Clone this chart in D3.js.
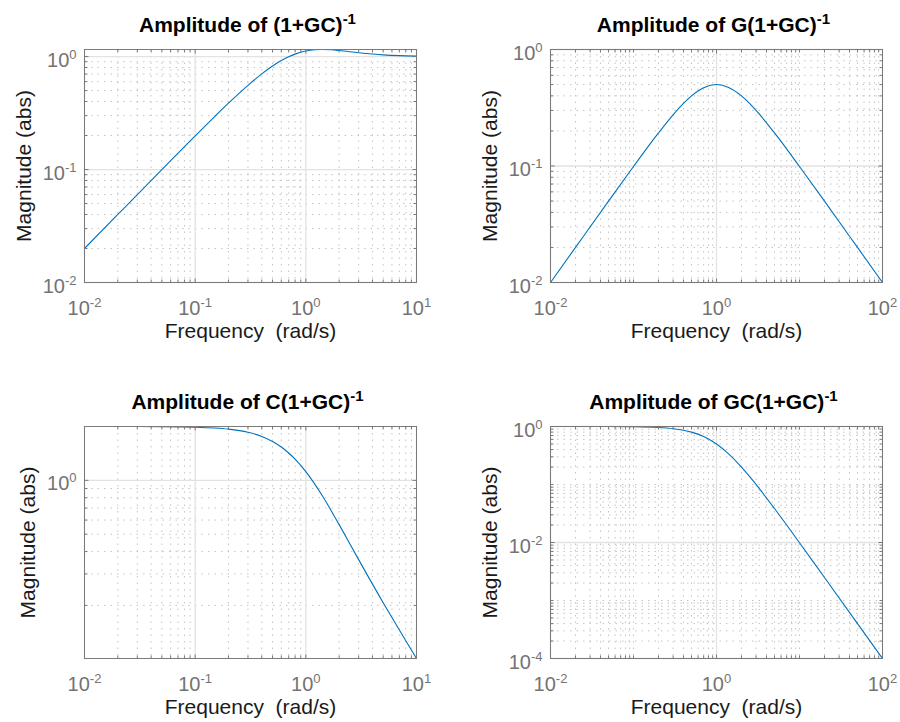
<!DOCTYPE html>
<html>
<head>
<meta charset="utf-8">
<script src="https://cdn.jsdelivr.net/npm/d3@7"></script>
<style>
  body { margin: 0; background: #fff; }
  svg { display: block; font-family: "Liberation Sans", Arial, Helvetica, sans-serif; }
</style>
</head>
<body>
<svg id="fig" width="900" height="722"></svg>
<script>
// frequencies (rad/s)
var freqA = [0.01, 0.02, 0.05, 0.1, 0.15, 0.2, 0.3, 0.4, 0.5, 0.6, 0.7, 0.8, 1, 1.2, 1.4, 1.7, 2, 3, 5, 7, 10];
// |(1+GC)^-1|
var magS = [0.0200, 0.0400, 0.0998, 0.1983, 0.2942, 0.3865, 0.5566, 0.7033, 0.8246, 0.9212, 0.9955, 1.0508,
            1.1180, 1.1471, 1.1547, 1.1471, 1.1314, 1.0817, 1.0356, 1.0192, 1.0097];
// |C(1+GC)^-1|
var magCS = [1.9998, 1.9993, 1.9956, 1.9827, 1.9615, 1.9327, 1.8554, 1.7583, 1.6492, 1.5353, 1.4221, 1.3135,
             1.1180, 0.9559, 0.8248, 0.6748, 0.5657, 0.3606, 0.2071, 0.1456, 0.1010];

// frequencies (rad/s)
var freqB = [0.01, 0.02, 0.05, 0.1, 0.2, 0.3, 0.4, 0.5, 0.7, 1, 1.4, 2, 2.5, 3.3, 5, 10, 20, 50, 100];
// |G(1+GC)^-1|
var magGS = [0.0100, 0.0200, 0.0499, 0.0990, 0.1923, 0.2752, 0.3448, 0.4000, 0.4698, 0.5000, 0.4730, 0.4000,
             0.3448, 0.2775, 0.1923, 0.0990, 0.0499, 0.0200, 0.0100];
// |GC(1+GC)^-1|
var magT = [0.9999, 0.9996, 0.9975, 0.9901, 0.9615, 0.9174, 0.8621, 0.8000, 0.6711, 0.5000, 0.3378, 0.2000,
            0.1379, 0.0841, 0.0385, 0.00990, 0.00249, 0.000400, 0.000100];

// labelled ticks
var xTicksA = [0.01, 0.1, 1, 10];
var xTicksB = [0.01, 1, 100];
var yTicksS = [0.01, 0.1, 1];
var yTicksGS = [0.01, 0.1, 1];
var yTicksCS = [1];
var yTicksT = [0.0001, 0.01, 1];

var titles = ["(1+GC)", "G(1+GC)", "C(1+GC)", "GC(1+GC)"];

var svg = d3.select('#fig');
svg.append('rect').attr('width', 900).attr('height', 722).attr('fill', '#fff');

var panels = [
  { title: titles[0], f: freqA, m: magS, xd: [0.01, 10], yd: [0.01, 1.1547], xt: xTicksA, yt: yTicksS,
    left: 84.5, right: 416.5, top: 49.5, bottom: 282.5 },
  { title: titles[1], f: freqB, m: magGS, xd: [0.01, 100], yd: [0.01, 1], xt: xTicksB, yt: yTicksGS,
    left: 550.5, right: 882.5, top: 49.5, bottom: 282.5 },
  { title: titles[2], f: freqA, m: magCS, xd: [0.01, 10], yd: [0.1010, 2], xt: xTicksA, yt: yTicksCS,
    left: 84.5, right: 416.5, top: 426.5, bottom: 658.5 },
  { title: titles[3], f: freqB, m: magT, xd: [0.01, 100], yd: [0.0001, 1], xt: xTicksB, yt: yTicksT,
    left: 550.5, right: 882.5, top: 426.5, bottom: 658.5 }
];

function sameVal(a, b) { return Math.abs(Math.log10(a) - Math.log10(b)) < 1e-6; }

// minor ticks: every k*10^e inside the domain that is not a labelled tick
function minorTicks(domain, majors) {
  var out = [];
  var e0 = Math.floor(Math.log10(domain[0])), e1 = Math.ceil(Math.log10(domain[1]));
  for (var e = e0; e <= e1; e++) {
    for (var k = 1; k <= 9; k++) {
      var v = k * Math.pow(10, e);
      if (v < domain[0] * (1 - 1e-9) || v > domain[1] * (1 + 1e-9)) continue;
      if (majors.some(function (mj) { return sameVal(mj, v); })) continue;
      out.push(v);
    }
  }
  return out;
}

function addPow(sel, v, size, shift) {
  var ex = Math.round(Math.log10(v));
  sel.text('10');
  sel.append('tspan').attr('dy', -shift).attr('font-size', size).text(String(ex));
}

panels.forEach(function (p, i) {
  var x = d3.scaleLog().domain(p.xd).range([p.left, p.right]);
  var y = d3.scaleLog().domain(p.yd).range([p.bottom, p.top]);
  var g = svg.append('g');
  var xMinor = minorTicks(p.xd, p.xt);
  var yMinor = minorTicks(p.yd, p.yt);

  // minor grid
  g.append('g').selectAll('line').data(xMinor).join('line')
    .attr('x1', function (d) { return x(d); }).attr('x2', function (d) { return x(d); })
    .attr('y1', p.top).attr('y2', p.bottom)
    .attr('stroke', '#c4c4c4').attr('stroke-dasharray', '1.5,5');
  g.append('g').selectAll('line').data(yMinor).join('line')
    .attr('y1', function (d) { return y(d); }).attr('y2', function (d) { return y(d); })
    .attr('x1', p.left).attr('x2', p.right)
    .attr('stroke', '#c4c4c4').attr('stroke-dasharray', '1.5,5');

  // major grid
  g.append('g').selectAll('line').data(p.xt).join('line')
    .attr('x1', function (d) { return x(d); }).attr('x2', function (d) { return x(d); })
    .attr('y1', p.top).attr('y2', p.bottom)
    .attr('stroke', '#e2e2e2').attr('stroke-width', 1.3);
  g.append('g').selectAll('line').data(p.yt).join('line')
    .attr('y1', function (d) { return y(d); }).attr('y2', function (d) { return y(d); })
    .attr('x1', p.left).attr('x2', p.right)
    .attr('stroke', '#e2e2e2').attr('stroke-width', 1.3);

  // curve
  var cid = 'clip' + i;
  svg.append('clipPath').attr('id', cid).append('rect')
    .attr('x', p.left).attr('y', p.top - 1).attr('width', p.right - p.left).attr('height', p.bottom - p.top + 2);
  var line = d3.line()
    .x(function (d) { return x(d[0]); })
    .y(function (d) { return y(d[1]); })
    .curve(d3.curveMonotoneX);
  g.append('path')
    .datum(d3.zip(p.f, p.m))
    .attr('clip-path', 'url(#' + cid + ')')
    .attr('d', line)
    .attr('fill', 'none').attr('stroke', '#0072BD').attr('stroke-width', 1.1);

  // box
  g.append('rect')
    .attr('x', p.left).attr('y', p.top).attr('width', p.right - p.left).attr('height', p.bottom - p.top)
    .attr('fill', 'none').attr('stroke', '#7a7a7a').attr('stroke-width', 1);

  // inward ticks on all sides
  var tk = g.append('g').attr('stroke', '#7a7a7a');
  function xTicks(vals, len) {
    vals.forEach(function (v) {
      tk.append('line').attr('x1', x(v)).attr('x2', x(v)).attr('y1', p.bottom).attr('y2', p.bottom - len);
      tk.append('line').attr('x1', x(v)).attr('x2', x(v)).attr('y1', p.top).attr('y2', p.top + len);
    });
  }
  function yTicks(vals, len) {
    vals.forEach(function (v) {
      tk.append('line').attr('y1', y(v)).attr('y2', y(v)).attr('x1', p.left).attr('x2', p.left + len);
      tk.append('line').attr('y1', y(v)).attr('y2', y(v)).attr('x1', p.right).attr('x2', p.right - len);
    });
  }
  xTicks(p.xt, 4); xTicks(xMinor, 3);
  yTicks(p.yt, 4); yTicks(yMinor, 3);

  // tick labels
  g.append('g').selectAll('text').data(p.xt).join('text')
    .attr('x', function (d) { return x(d); }).attr('y', p.bottom + 32)
    .attr('text-anchor', 'middle').attr('font-size', 20).attr('fill', '#737373')
    .each(function (d) { addPow(d3.select(this), d, 13, 8); });
  var yl = g.append('g');
  yl.selectAll('text').data(p.yt).join('text')
    .attr('x', p.left - 8).attr('y', function (d) { return y(d) + 10; })
    .attr('text-anchor', 'end').attr('font-size', 20).attr('fill', '#737373')
    .each(function (d) { addPow(d3.select(this), d, 13, 8); });

  // axis labels
  g.append('text')
    .attr('x', (p.left + p.right) / 2).attr('y', p.bottom + 55)
    .attr('text-anchor', 'middle').attr('font-size', 21).attr('fill', '#1a1a1a')
    .style('white-space', 'pre')
    .text('Frequency  (rad/s)');
  var minLeft = yl.node().getBBox().x;
  g.append('text')
    .attr('transform', 'translate(' + (minLeft - 12) + ',' + ((p.top + p.bottom) / 2) + ') rotate(-90)')
    .attr('text-anchor', 'middle').attr('font-size', 21).attr('fill', '#1a1a1a')
    .text('Magnitude (abs)');

  // title
  var t = g.append('text')
    .attr('x', (p.left + p.right) / 2 - 3).attr('y', p.top - 18)
    .attr('text-anchor', 'middle').attr('font-size', 21).attr('font-weight', 'bold').attr('fill', '#000')
    .text('Amplitude of ' + p.title);
  t.append('tspan').attr('dy', -8).attr('font-size', 15).text('-1');
});
</script>
</body>
</html>
